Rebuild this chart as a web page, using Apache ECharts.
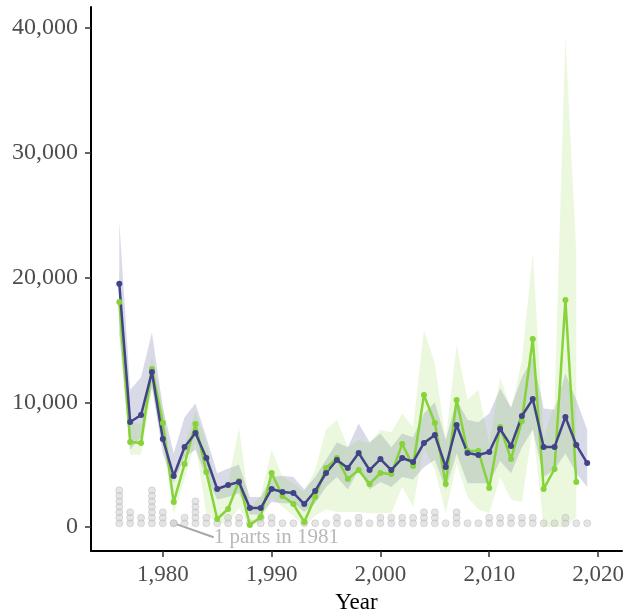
<!DOCTYPE html>
<html>
<head>
<meta charset="utf-8">
<script src="https://cdn.jsdelivr.net/npm/echarts@6/dist/echarts.min.js"></script>
<style>
    html, body { margin: 0; padding: 0; background: #fff; }
    #main { width: 631px; height: 614px; }
</style>
</head>
<body>
<div id="main"></div>
<script>
    var years = [1976, 1977, 1978, 1979, 1980, 1981, 1982, 1983, 1984, 1985,
        1986, 1987, 1988, 1989, 1990, 1991, 1992, 1993, 1994, 1995,
        1996, 1997, 1998, 1999, 2000, 2001, 2002, 2003, 2004, 2005,
        2006, 2007, 2008, 2009, 2010, 2011, 2012, 2013, 2014, 2015,
        2016, 2017, 2018, 2019];

    // navy series (1976-2019)
    var navyMean = [19500, 8420, 8980, 12430, 7060, 4090, 6420, 7540, 5530, 3050,
        3370, 3610, 1520, 1520, 3050, 2810, 2730, 1840, 2890, 4330,
        5370, 4730, 5930, 4570, 5450, 4570, 5530, 5210, 6740, 7380,
        4810, 8180, 5930, 5770, 6010, 7860, 6500, 8900, 10260, 6420,
        6420, 8820, 6580, 5130];
    var navyLow = [15500, 6200, 7200, 11200, 5900, 3500, 5600, 6200, 4000, 2200,
        2400, 2700, 1000, 1000, 2000, 1900, 1900, 1200, 1900, 3200,
        4000, 3000, 4600, 3000, 3600, 3200, 4000, 3800, 4800, 5400,
        3000, 5900, 3500, 3500, 3500, 5300, 4300, 6400, 7800, 4000,
        4600, 5900, 4300, 3200];
    var navyHigh = [24500, 11000, 12000, 15600, 9600, 5900, 8800, 9900, 7200, 4300,
        4700, 5000, 2400, 2400, 4000, 4100, 4000, 3000, 4000, 5400,
        6800, 6400, 8300, 6800, 7500, 6400, 7500, 7200, 9100, 10000,
        7000, 10200, 8600, 8400, 9100, 11100, 9600, 12000, 13600, 9500,
        9400, 12300, 10200, 7800];

    // green series (1976-2018)
    var greenMean = [18040, 6820, 6740, 12670, 8340, 2000, 5050, 8260, 4410, 640,
        1440, 3690, 160, 800, 4330, 2490, 1840, 400, 2410, 4730,
        5530, 3850, 4570, 3450, 4330, 4250, 6660, 4890, 10590, 8340,
        3450, 10180, 6090, 6090, 3130, 8020, 5450, 8500, 15080, 3050,
        4650, 18200, 3610];
    var greenLow = [15500, 5800, 5800, 11000, 6800, 1000, 3800, 6800, 1000, 300,
        300, 1500, 150, 300, 2400, 1600, 900, 0, 900, 1400,
        1200, 1200, 1200, 1100, 1100, 1100, 3200, 1600, 6400, 4600,
        1100, 5100, 2400, 1400, 1100, 4000, 2200, 2000, 8000, 0,
        0, 0, 800];
    var greenHigh = [21000, 8500, 8200, 13800, 9800, 3500, 6600, 9300, 6800, 2800,
        3500, 8000, 1500, 2500, 6200, 4000, 3500, 2800, 4600, 7800,
        8600, 6400, 7000, 6700, 7800, 7600, 9100, 8000, 15800, 13100,
        7000, 14600, 10200, 11000, 6700, 12000, 9400, 13400, 22000, 7200,
        9900, 39400, 22000];

    // number of parts per year (grey dot stacks)
    var partCounts = [7, 3, 2, 7, 3, 1, 2, 5, 2, 1,
        2, 2, 1, 2, 2, 1, 1, 1, 1, 1,
        2, 1, 2, 1, 2, 2, 2, 2, 3, 3,
        1, 3, 1, 1, 2, 2, 2, 2, 2, 1,
        1, 2, 1, 1];
    var noteYear = 1981;

    var xTicks = [1980, 1990, 2000, 2010, 2020];
    var yTicks = [0, 10000, 20000, 30000, 40000];

    var NAVY = '#414487';
    var GREEN = '#86d33a';
    var FONT = 'Liberation Serif';
    var DOT_BASE = 300, DOT_STEP = 440;

    function pairs(xs, ys) {
        return ys.map((v, k) => [xs[k], v]);
    }

    function bandSeries(name, low, high, fill) {
        return {
            name: name,
            type: 'custom',
            silent: true,
            z: 1,
            data: pairs(years, low),
            renderItem: function (params, api) {
                if (params.dataIndex !== 0) return null;
                let top = high.map((v, k) => api.coord([years[k], v]));
                let bottom = low.map((v, k) => api.coord([years[k], v])).reverse();
                return {
                    type: 'polygon',
                    shape: { points: top.concat(bottom) },
                    style: { fill: fill }
                };
            }
        };
    }

    function lineSeries(name, data, color) {
        return {
            name: name,
            type: 'line',
            z: 3,
            data: pairs(years, data),
            symbol: 'circle',
            symbolSize: 6,
            color: color,
            lineStyle: { width: 2.5, color: color },
            itemStyle: { color: color }
        };
    }

    var dotData = [];
    years.forEach((yr, k) => {
        for (let j = 0; j < partCounts[k]; j++) {
            dotData.push([yr, DOT_BASE + j * DOT_STEP]);
        }
    });
    var noteCount = partCounts[years.indexOf(noteYear)];

    var dotStyle = {
        color: 'rgba(200,200,200,0.6)',
        borderColor: 'rgba(185,185,185,0.6)',
        borderWidth: 1
    };

    var option = {
        animation: false,
        grid: { left: 91, right: 9, top: 7, bottom: 63, outerBoundsMode: 'none', containLabel: false },
        xAxis: {
            type: 'value',
            min: 1973.4,
            max: 2022.2,
            splitLine: { show: false },
            axisLine: { onZero: false, lineStyle: { color: '#000', width: 2 } },
            axisTick: { customValues: xTicks, length: 6, lineStyle: { color: '#333', width: 1.5 } },
            axisLabel: {
                customValues: xTicks,
                color: '#4d4d4d',
                fontFamily: FONT,
                fontSize: 23,
                margin: 12
            },
            name: 'Year',
            nameLocation: 'middle',
            nameGap: 40,
            nameTextStyle: { color: '#000', fontFamily: FONT, fontSize: 23 }
        },
        yAxis: {
            type: 'value',
            min: -1925,
            max: 41700,
            splitLine: { show: false },
            axisLine: { show: true, onZero: false, lineStyle: { color: '#000', width: 2 } },
            axisTick: { show: true, customValues: yTicks, length: 6, lineStyle: { color: '#333', width: 1.5 } },
            axisLabel: {
                customValues: yTicks,
                color: '#4d4d4d',
                fontFamily: FONT,
                fontSize: 24,
                margin: 13,
                formatter: (v) => v.toLocaleString('en-US')
            }
        },
        series: [
            bandSeries('navy band', navyLow, navyHigh, 'rgba(65,68,135,0.2)'),
            bandSeries('green band', greenLow, greenHigh, 'rgba(134,211,58,0.17)'),
            {
                name: 'parts',
                type: 'scatter',
                z: 2,
                silent: true,
                symbolSize: 7,
                itemStyle: dotStyle,
                data: dotData
            },
            {
                name: 'note',
                type: 'scatter',
                z: 2,
                silent: true,
                symbolSize: 7,
                itemStyle: dotStyle,
                data: [[noteYear, DOT_BASE]],
                label: {
                    show: true,
                    position: 'right',
                    formatter: noteCount + ' parts in ' + noteYear,
                    color: '#a6a6a6',
                    fontFamily: FONT,
                    fontSize: 21
                },
                labelLayout: { dx: 31, dy: 14 },
                labelLine: { show: true, lineStyle: { color: '#a6a6a6', width: 2 } }
            },
            lineSeries('green', greenMean, GREEN),
            lineSeries('navy', navyMean, NAVY)
        ]
    };

    var myChart = echarts.init(document.getElementById('main'));
    myChart.setOption(option);
</script>
</body>
</html>
